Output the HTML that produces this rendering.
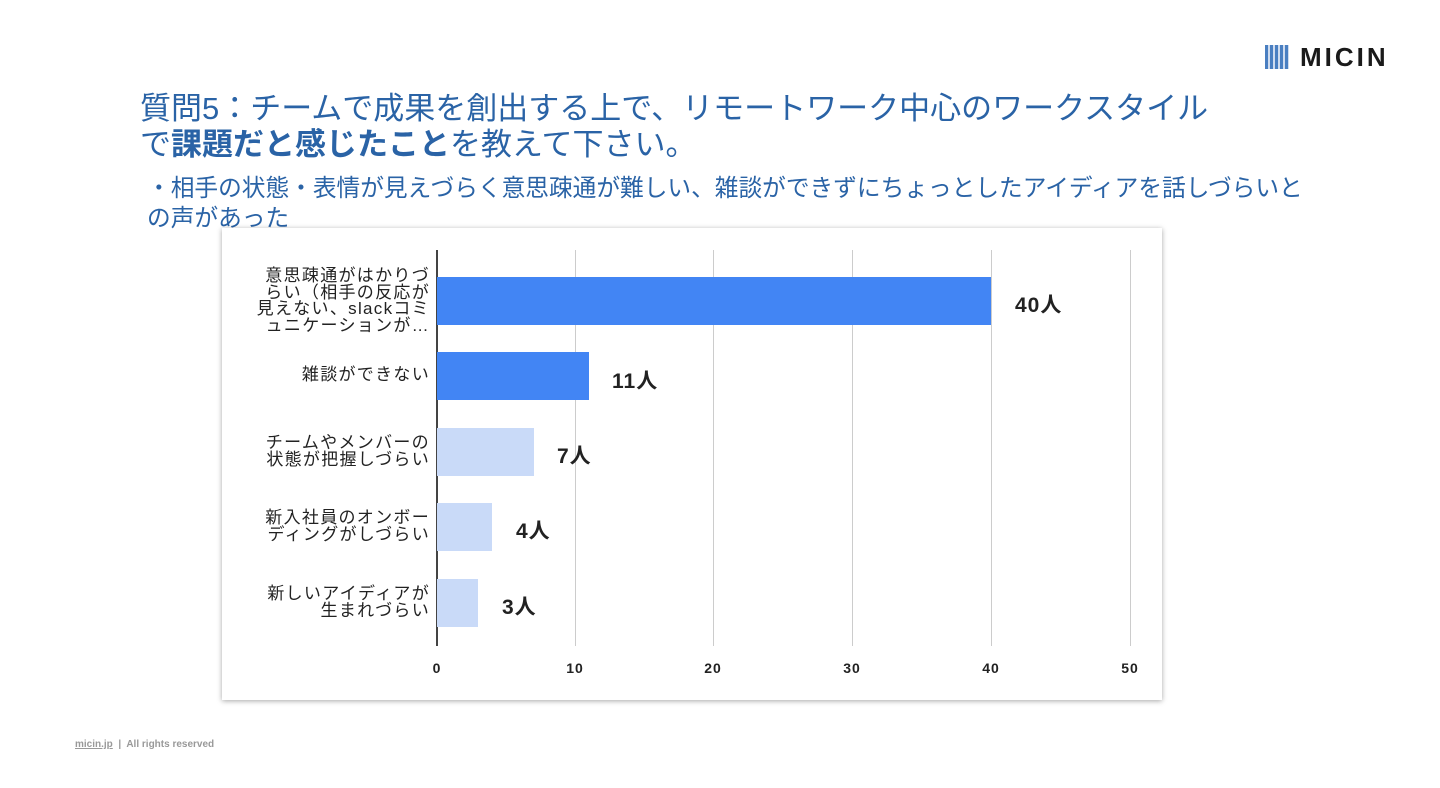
<!DOCTYPE html>
<html><head><meta charset="utf-8"><style>
body{margin:0;width:1440px;height:788px;background:#fff;position:relative;overflow:hidden;font-family:"Liberation Sans","Noto Sans CJK JP",sans-serif}
.t{position:absolute;color:#2a63a6;white-space:nowrap}
.box{position:absolute;left:222px;top:228px;width:940px;height:472px;background:#fff;box-shadow:0 1px 5px rgba(0,0,0,.35)}
.lbl{position:absolute;right:1010px;text-align:right;font-size:17px;line-height:16.5px;color:#222;letter-spacing:1.3px;white-space:nowrap}
.bar{position:absolute;left:437px;height:48px}
.v{position:absolute;font-size:21px;font-weight:bold;color:#222;letter-spacing:1px}
.g{position:absolute;top:250px;height:396px;width:1px;background:#ccc}
.tk{position:absolute;top:660px;font-size:14px;color:#222;width:40px;margin-left:-20px;text-align:center;font-weight:bold;letter-spacing:1px}
</style></head><body>
<div style="position:absolute;left:1265px;top:45px;width:24px;height:24px;background:repeating-linear-gradient(90deg,#4a7fc1 0 3px,#cfdcef 3px 5px)"></div>
<div style="position:absolute;left:1300px;top:42px;font-size:26px;font-weight:bold;letter-spacing:3px;color:#1a1a1a">MICIN</div>
<div class="t" style="left:140px;top:83px;font-size:31px">質問5：チームで成果を創出する上で、リモートワーク中心のワークスタイル</div>
<div class="t" style="left:140px;top:119px;font-size:31px">で<b>課題だと感じたこと</b>を教えて下さい。</div>
<div class="t" style="left:147px;top:169px;font-size:23.7px">・相手の状態・表情が見えづらく意思疎通が難しい、雑談ができずにちょっとしたアイディアを話しづらいと</div>
<div class="t" style="left:147px;top:199px;font-size:23.7px">の声があった</div>
<div class="box"></div>
<div class="g" style="left:575px"></div><div class="g" style="left:713px"></div><div class="g" style="left:852px"></div><div class="g" style="left:991px"></div><div class="g" style="left:1130px"></div>
<div style="position:absolute;left:436px;top:250px;width:2px;height:396px;background:#444"></div>
<div class="bar" style="top:277px;width:554px;background:#4285f4"></div>
<div class="bar" style="top:352px;width:152px;background:#4285f4"></div>
<div class="bar" style="top:428px;width:97px;background:#c9daf8"></div>
<div class="bar" style="top:503px;width:55px;background:#c9daf8"></div>
<div class="bar" style="top:579px;width:41px;background:#c9daf8"></div>
<div class="v" style="left:1015px;top:289px">40人</div>
<div class="v" style="left:612px;top:365px">11人</div>
<div class="v" style="left:557px;top:440px">7人</div>
<div class="v" style="left:516px;top:515px">4人</div>
<div class="v" style="left:502px;top:591px">3人</div>
<div class="lbl" style="top:268px">意思疎通がはかりづ<br>らい（相手の反応が<br>見えない、slackコミ<br>ュニケーションが…</div>
<div class="lbl" style="top:367px">雑談ができない</div>
<div class="lbl" style="top:435px">チームやメンバーの<br>状態が把握しづらい</div>
<div class="lbl" style="top:510px">新入社員のオンボー<br>ディングがしづらい</div>
<div class="lbl" style="top:586px">新しいアイディアが<br>生まれづらい</div>
<div class="tk" style="left:437px">0</div><div class="tk" style="left:575px">10</div><div class="tk" style="left:713px">20</div><div class="tk" style="left:852px">30</div><div class="tk" style="left:991px">40</div><div class="tk" style="left:1130px">50</div>
<div style="position:absolute;left:75px;top:739px;font-size:10px;color:#999;font-weight:bold"><u>micin.jp</u> &nbsp;|&nbsp; All rights reserved</div>
</body></html>
